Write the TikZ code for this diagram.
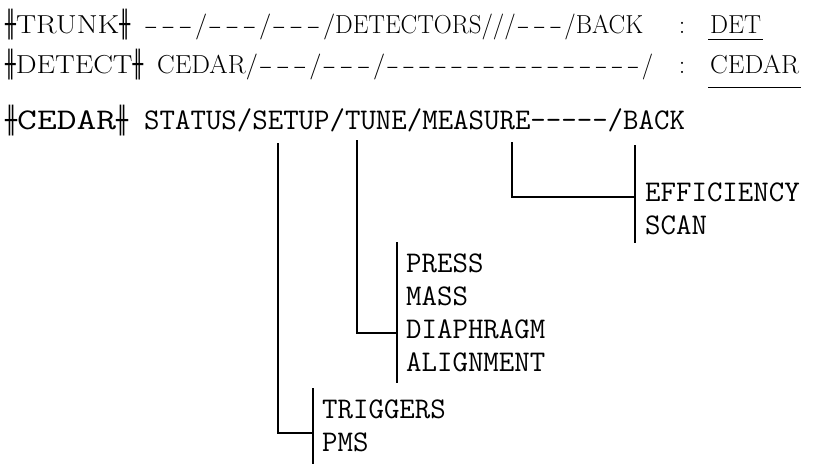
\documentclass[tikz,border=0pt]{standalone}
\usepackage{fontspec}
\usepackage{graphicx}
\newfontfamily\symfont{DejaVu Sans}
\newcommand\dsh{\makebox[0.65em]{\scalebox{1.6}[1]{-}}}
\newcommand\mk{\scalebox{0.6}[1]{\symfont ╫}}
\tikzset{
  topline/.style={anchor=base west, inner sep=0pt, font=\fontsize{26}{30}\selectfont},
  colon/.style={anchor=base, inner sep=0pt, font=\fontsize{26}{30}\selectfont},
  monotxt/.style={anchor=base west, inner sep=0pt, font=\ttfamily\fontsize{30}{34}\selectfont},
  link/.style={line width=1.2pt},
  underl/.style={line width=0.9pt}
}
\begin{document}
\begin{tikzpicture}[x=1pt,y=-1pt]
\useasboundingbox (0,0) rectangle (816,464);
% row 1
\node[topline] (t1a) at (5,33) {\resizebox{125pt}{\height}{\mk TRUNK\mk}};
\node[topline] (t1b) at (143,33) {\resizebox{192pt}{\height}{\dsh\dsh\dsh/\dsh\dsh\dsh/\dsh\dsh\dsh/}};
\node[topline] (t1c) at (335,33) {\resizebox{308pt}{\height}{DETECTORS///\dsh\dsh\dsh/BACK}};
\node[colon] (c1) at (682,33) {:};
\node[topline] (t1d) at (710,33) {\resizebox{51pt}{\height}{DET}};
\coordinate (u1a) at (708,39);
\coordinate (u1b) at (763,39);
\draw[underl] (u1a) -- (u1b);
% row 2
\node[topline] (t2a) at (5,73) {\resizebox{138pt}{\height}{\mk DETECT\mk}};
\node[topline] (t2b) at (157,73) {\resizebox{228pt}{\height}{CEDAR/\dsh\dsh\dsh/\dsh\dsh\dsh/}};
\node[topline] (t2c) at (385,73) {\resizebox{268pt}{\height}{\dsh\dsh\dsh\dsh\dsh\dsh\dsh\dsh\dsh\dsh\dsh\dsh\dsh\dsh\dsh\dsh/}};
\node[colon] (c2) at (682,73) {:};
\node[topline] (t2d) at (710,73) {\resizebox{89pt}{\height}{CEDAR}};
\coordinate (u2a) at (708,87);
\coordinate (u2b) at (801,87);
\draw[underl] (u2a) -- (u2b);
% row 3
\node[topline] (t3a) at (5,129) {\resizebox{123pt}{\height}{\mk{\ttfamily\fontsize{30}{34}\selectfont CEDAR}\mk}};
\node[monotxt] (t3b) at (144,129) {STATUS/SETUP/TUNE/MEASURE-{}-{}-{}-{}-/BACK};
% MEASURE branch
\coordinate (m0) at (512,142);
\coordinate (m1) at (512,197);
\coordinate (m2) at (635,197);
\coordinate (mt) at (635,145);
\coordinate (mb) at (635,243);
\draw[link] (m0) -- (m1) -- (m2);
\draw[link] (mt) -- (mb);
\node[monotxt] (eff) at (645,201) {EFFICIENCY};
\node[monotxt] (scan) at (645,234) {SCAN};
% TUNE branch
\coordinate (n0) at (357,140);
\coordinate (n1) at (357,333);
\coordinate (n2) at (397,333);
\coordinate (nt) at (397,242);
\coordinate (nb) at (397,383);
\draw[link] (n0) -- (n1) -- (n2);
\draw[link] (nt) -- (nb);
\node[monotxt] (press) at (406,272) {PRESS};
\node[monotxt] (mass) at (406,305) {MASS};
\node[monotxt] (diaph) at (406,338) {DIAPHRAGM};
\node[monotxt] (align) at (406,371) {ALIGNMENT};
% SETUP branch
\coordinate (s0) at (278,143);
\coordinate (s1) at (278,433);
\coordinate (s2) at (313,433);
\coordinate (st) at (313,388);
\coordinate (sb) at (313,464);
\draw[link] (s0) -- (s1) -- (s2);
\draw[link] (st) -- (sb);
\node[monotxt] (trig) at (322,418) {TRIGGERS};
\node[monotxt] (pms) at (322,451) {PMS};
\end{tikzpicture}
\end{document}
